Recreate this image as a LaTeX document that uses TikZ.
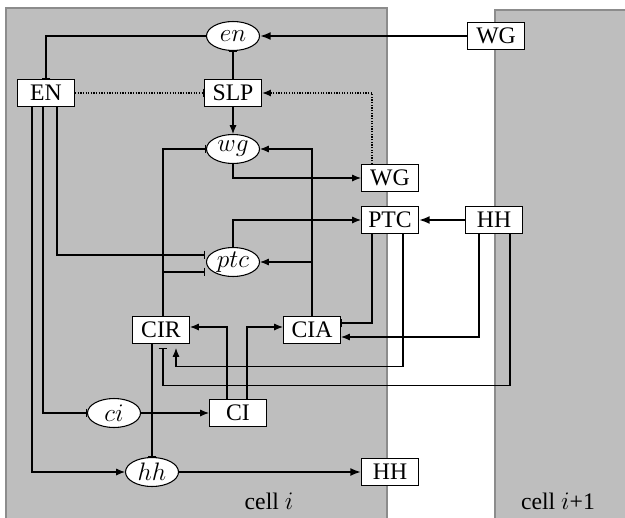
\documentclass[tikz,border=0pt]{standalone}
\usepackage{fontspec}
\setmainfont{Liberation Serif}
\usepackage{tikz}
\usetikzlibrary{shapes.geometric,arrows.meta,calc}
\definecolor{cellGray}{HTML}{BEBEBE}
\definecolor{cellEdge}{HTML}{8C8C8C}
\tikzset{
  gene/.style={ellipse, draw, fill=white, line width=0.6pt, minimum width=1.06cm, minimum height=0.58cm, inner sep=0pt},
  prot/.style={rectangle, draw, fill=white, line width=0.6pt, minimum width=1.14cm, minimum height=0.54cm, inner sep=1pt},
  act/.style={line width=0.6pt, -{Latex[length=5pt,width=4pt]}},
  inh/.style={line width=0.6pt, -{Bar[width=5pt,line width=0.7pt]}},
  strong/.style={line width=1.1pt, -{Latex[length=6pt,width=4.5pt]}},
  dots/.style={dash pattern=on 0.7pt off 0.8pt}
}

\begin{document}
\begin{tikzpicture}[x=0.02cm, y=-0.02cm, font=\fontsize{13.5}{16}\selectfont]
  \useasboundingbox (0,0) rectangle (625,517);
  \clip (0,0) rectangle (625,517);
  \filldraw[fill=cellGray, draw=cellEdge, line width=0.8pt] (6,8) rectangle (387,530);
  \filldraw[fill=cellGray, draw=cellEdge, line width=0.8pt] (495,10) rectangle (640,530);
  \node at (269,501) {cell $i$};
  \node at (558,501) {cell $i$+1};

  \node[gene] (en)  at (233,36)  {$en$};
  \node[prot] (WGa) at (496,36)  {WG};
  \node[prot] (EN)  at (46,93)   {EN};
  \node[prot] (SLP) at (233,93)  {SLP};
  \node[gene] (wg)  at (233,149) {$wg$};
  \node[prot] (WGb) at (390,178) {WG};
  \node[prot] (PTC) at (390,220) {PTC};
  \node[prot] (HHa) at (494,220) {HH};
  \node[gene] (ptc) at (233,262) {$ptc$};
  \node[prot] (CIR) at (161,330) {CIR};
  \node[prot] (CIA) at (312,330) {CIA};
  \node[gene] (ci)  at (114,413) {$ci$};
  \node[prot] (CI)  at (238,413) {CI};
  \node[gene] (hh)  at (152,472) {$hh$};
  \node[prot] (HHb) at (390,472) {HH};

  \draw[strong] (WGa.west) -- (en.east);
  \draw[inh] (en.west) -| (EN.north);
  \draw[inh] (SLP.north) -- (en.south);
  \draw[inh, dots] (EN.east) -- (SLP.west);
  \draw[act, dots, line width=0.9pt] ($(WGb.north)+(-18,0)$) |- (SLP.east);
  \draw[act] (SLP.south) -- (wg.north);
  \draw[act] (wg.south) |- (WGb.west);
  \draw[inh] ($(CIR.north)+(2,0)$) |- (wg.west);
  \draw[act] (CIA.north) |- (wg.east);
  \draw[act] (CIA.north) |- (ptc.east);
  \draw[inh] ($(CIR.north)+(2,0)$) |- ($(ptc.west)+(-1,10)$);
  \draw[inh] ($(EN.south)+(11,0)$) |- ($(ptc.west)+(-1,-7)$);
  \draw[inh] ($(EN.south)+(-3,0)$) |- (ci.west);
  \draw[act] ($(EN.south)+(-14,0)$) |- (hh.west);
  \draw[act] (ptc.north) |- (PTC.west);
  \draw[strong] (HHa.west) -- (PTC.east);
  \draw[inh] ($(PTC.south)+(-18,0)$) |- ($(CIA.east)+(0,-7)$);
  \draw[act] ($(HHa.south)+(-15,0)$) |- ($(CIA.east)+(0,7)$);
  \draw[act] ($(PTC.south)+(13,0)$) |- ($(CIR.south)+(15,22)$) -- ($(CIR.south)+(15,4)$);
  \draw[inh] ($(HHa.south)+(16,0)$) |- ($(CIR.south)+(2,41)$) -- ($(CIR.south)+(2,4)$);
  \draw[inh] (hh.north |- CIR.south) -- (hh.north);
  \draw[act] (ci.east) -- (CI.west);
  \draw[act] ($(CI.north)+(-11,0)$) |- ($(CIR.east)+(0,-3)$);
  \draw[act] ($(CI.north)+(9,0)$) |- ($(CIA.west)+(0,-3)$);
  \draw[strong] (hh.east) -- (HHb.west);
\end{tikzpicture}
\end{document}
